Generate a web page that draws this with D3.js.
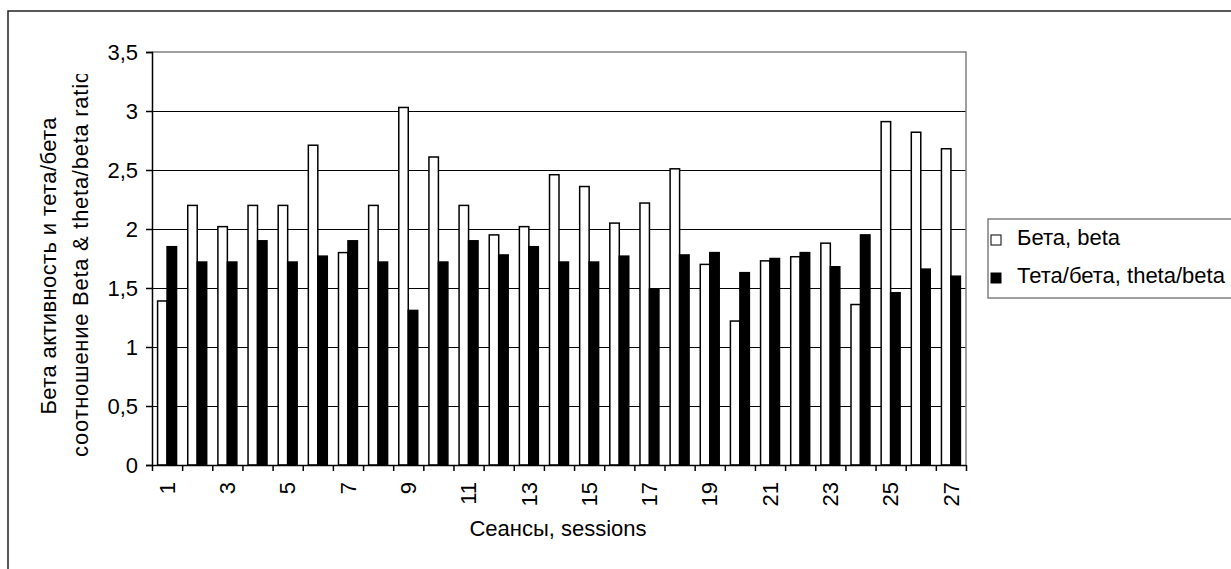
<!DOCTYPE html>
<html>
<head>
<meta charset="utf-8">
<script src="https://cdn.jsdelivr.net/npm/d3@7"></script>
<style>
  body { margin:0; background:#fff; }
  svg text { font-family:"Liberation Sans", Arial, sans-serif; fill:#000; }
</style>
</head>
<body>
<svg id="chart"></svg>
<script>
// data
var sessions = d3.range(1, 28);
var betaVals = [1.39, 2.2, 2.02, 2.2, 2.2, 2.71, 1.8, 2.2, 3.03, 2.61, 2.2, 1.95, 2.02, 2.46, 2.36,
                2.05, 2.22, 2.51, 1.7, 1.22, 1.73, 1.765, 1.88, 1.36, 2.91, 2.82, 2.68];
var ratioVals = [1.85, 1.72, 1.72, 1.9, 1.72, 1.77, 1.9, 1.72, 1.31, 1.72, 1.9, 1.78, 1.85, 1.72, 1.72,
                 1.77, 1.49, 1.78, 1.8, 1.63, 1.75, 1.8, 1.68, 1.95, 1.46, 1.66, 1.6];
var seriesNames = ['Бета, beta', 'Тета/бета, theta/beta'];
var seriesFill = ['#fff', '#000'];
var yTicks = [0, 0.5, 1, 1.5, 2, 2.5, 3, 3.5];
var xLabelEvery = 2;
var yTitle = ['Бета активность и тета/бета', 'соотношение Beta & theta/beta ratio'];
var xTitle = 'Сеансы, sessions';

/*********layout************/
var width = 1231, height = 569;
var plot = {left:152, right:966, top:52, bottom:465};
var fontSize = 22;
// y title lines: baseline x, centre y, drawn length (Excel spacing)
var yTitlePos = [{x:56, cy:266, len:297}, {x:88, cy:264, len:386}];

var svg = d3.select('#chart')
	.attr('width', width)
	.attr('height', height);

// the long title line is cut off at the top in the original
svg.append('clipPath').attr('id', 'ytclip')
	.append('rect').attr('x', 0).attr('y', 74).attr('width', 150).attr('height', 480);

// outer chart frame (runs off right and bottom)
svg.append('rect')
	.attr('x', 8).attr('y', 11)
	.attr('width', width + 20).attr('height', height + 20)
	.attr('fill', '#fff')
	.attr('stroke', '#222')
	.attr('stroke-width', 1.5);

var x0 = d3.scaleBand()
	.domain(sessions)
	.range([plot.left, plot.right])
	.paddingInner(0).paddingOuter(0);
var x1 = d3.scaleBand()
	.domain([0, 1])
	.range([0, x0.bandwidth()])
	.paddingInner(0).paddingOuter(0.59);
var xEdge = d3.scaleLinear()
	.domain([0, sessions.length])
	.range([plot.left, plot.right]);
var y = d3.scaleLinear()
	.domain([0, 3.5])
	.range([plot.bottom, plot.top]);

// gridlines
svg.append('g')
	.selectAll('line')
	.data(yTicks.filter(function(d){ return d > 0 && d < 3.5; }))
	.enter().append('line')
	.attr('x1', plot.left).attr('x2', plot.right)
	.attr('y1', function(d){ return Math.round(y(d)) + 0.5; })
	.attr('y2', function(d){ return Math.round(y(d)) + 0.5; })
	.attr('stroke', '#000').attr('stroke-width', 1);

// plot frame top/right in gray
svg.append('path')
	.attr('d', 'M' + plot.left + ',' + (y(3.5)) + 'H' + plot.right + 'V' + plot.bottom)
	.attr('fill', 'none')
	.attr('stroke', '#808080')
	.attr('stroke-width', 1.5);

// bars
var series = [betaVals, ratioVals];
var groups = svg.append('g')
	.selectAll('g')
	.data(sessions)
	.enter().append('g')
	.attr('transform', function(d){ return 'translate(' + x0(d) + ',0)'; });
groups.selectAll('rect')
	.data(function(d, i){ return series.map(function(s, k){ return {k:k, v:s[i]}; }); })
	.enter().append('rect')
	.attr('x', function(d){ return x1(d.k); })
	.attr('width', x1.bandwidth())
	.attr('y', function(d){ return y(d.v); })
	.attr('height', function(d){ return y(0) - y(d.v); })
	.attr('fill', function(d){ return seriesFill[d.k]; })
	.attr('stroke', '#000')
	.attr('stroke-width', 1.5);

// y axis
var axisY = d3.axisLeft(y)
	.tickValues(yTicks)
	.tickSizeOuter(0)
	.tickSize(6)
	.tickPadding(8)
	.tickFormat(function(d){ return String(d).replace('.', ','); });
var axisYG = svg.append('g')
	.attr('transform', 'translate(' + plot.left + ',0)')
	.call(axisY);
axisYG.selectAll('text').style('font-size', fontSize + 'px').attr('font-family', null);
axisYG.selectAll('path, line').attr('stroke', '#000').attr('stroke-width', 1.5);

// x axis: ticks between categories
var axisX = d3.axisBottom(xEdge)
	.tickValues(d3.range(sessions.length + 1))
	.tickSize(6)
	.tickSizeOuter(0)
	.tickFormat('');
var axisXG = svg.append('g')
	.attr('transform', 'translate(0,' + plot.bottom + ')')
	.call(axisX);
axisXG.selectAll('path, line').attr('stroke', '#000').attr('stroke-width', 1.5);

// x tick labels, rotated
svg.append('g')
	.selectAll('text')
	.data(sessions.filter(function(d, i){ return i % xLabelEvery === 0; }))
	.enter().append('text')
	.attr('transform', function(d){
		return 'translate(' + (x0(d) + x0.bandwidth() / 2) + ',' + (plot.bottom + 17) + ') rotate(-90)';
	})
	.attr('dy', '0.35em')
	.attr('text-anchor', 'end')
	.style('font-size', fontSize + 'px')
	.text(function(d){ return d; });

// axis titles
svg.append('text')
	.attr('x', (plot.left + plot.right) / 2 - 1)
	.attr('y', 536)
	.attr('text-anchor', 'middle')
	.style('font-size', fontSize + 'px')
	.text(xTitle);
svg.append('g').attr('clip-path', 'url(#ytclip)')
	.selectAll('.ytitle')
	.data(yTitle)
	.enter().append('text')
	.attr('class', 'ytitle')
	.attr('transform', function(d, i){ return 'translate(' + yTitlePos[i].x + ',' + yTitlePos[i].cy + ') rotate(-90)'; })
	.attr('text-anchor', 'middle')
	.attr('textLength', function(d, i){ return yTitlePos[i].len; })
	.attr('lengthAdjust', 'spacing')
	.style('font-size', fontSize + 'px')
	.text(function(d){ return d; });

// legend
var legend = svg.append('g').attr('transform', 'translate(988,219)');
legend.append('rect')
	.attr('width', 300).attr('height', 79)
	.attr('fill', '#fff')
	.attr('stroke', '#808080')
	.attr('stroke-width', 1.5);
var items = legend.selectAll('.item')
	.data(seriesNames)
	.enter().append('g')
	.attr('class', 'item')
	.attr('transform', function(d, i){ return 'translate(0,' + (26 + i * 38) + ')'; });
items.append('rect')
	.attr('x', 3).attr('y', -10)
	.attr('width', 10).attr('height', 10)
	.attr('fill', function(d, i){ return seriesFill[i]; })
	.attr('stroke', '#000').attr('stroke-width', 1);
items.append('text')
	.attr('x', 29)
	.attr('y', 0)
	.style('font-size', fontSize + 'px')
	.text(function(d){ return d; });
</script>
</body>
</html>
